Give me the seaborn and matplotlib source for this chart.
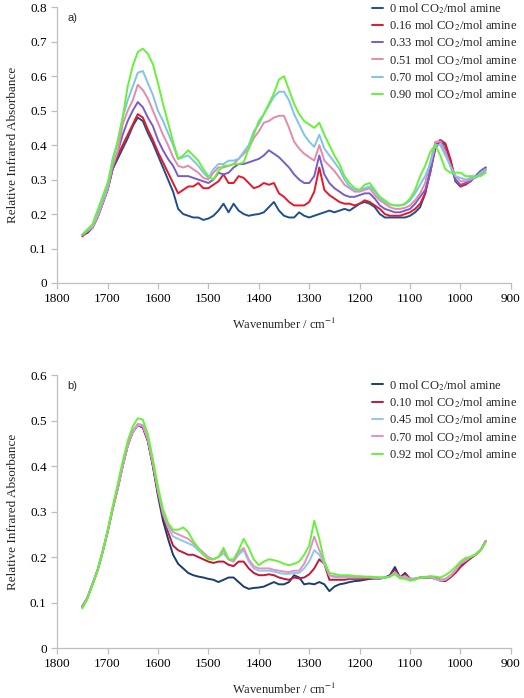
import matplotlib
matplotlib.use("Agg")
import matplotlib.pyplot as plt
import seaborn as sns

# wavenumber grid (cm-1) shared by every spectrum
wavenumbers = [1750, 1740, 1730, 1720, 1710, 1700, 1690, 1680, 1670, 1660,
               1650, 1640, 1630, 1620, 1610, 1600, 1590, 1580, 1570, 1560,
               1550, 1540, 1530, 1520, 1510, 1500, 1490, 1480, 1470, 1460,
               1450, 1440, 1430, 1420, 1410, 1400, 1390, 1380, 1370, 1360,
               1350, 1340, 1330, 1320, 1310, 1300, 1290, 1280, 1270, 1260,
               1250, 1240, 1230, 1220, 1210, 1200, 1190, 1180, 1170, 1160,
               1150, 1140, 1130, 1120, 1110, 1100, 1090, 1080, 1070, 1060,
               1050, 1040, 1030, 1020, 1010, 1000, 990, 980, 970, 960, 950]

# panel a)
a_labels = ["0 mol CO$_2$/mol amine", "0.16 mol CO$_2$/mol amine",
            "0.33 mol CO$_2$/mol amine", "0.51 mol CO$_2$/mol amine",
            "0.70 mol CO$_2$/mol amine", "0.90 mol CO$_2$/mol amine"]
a_colors = ["#1f4f8f", "#e3182b", "#7a5cc9", "#e58aac", "#82c3e8", "#66f23a"]

a_000 = [0.14, 0.145, 0.16, 0.19, 0.23, 0.27, 0.33, 0.36, 0.39, 0.42,
         0.455, 0.48, 0.47, 0.435, 0.405, 0.37, 0.335, 0.30, 0.265, 0.215,
         0.20, 0.195, 0.19, 0.19, 0.183, 0.187, 0.195, 0.21, 0.23, 0.205,
         0.23, 0.21, 0.20, 0.195, 0.198, 0.20, 0.205, 0.22, 0.235, 0.21,
         0.195, 0.19, 0.19, 0.205, 0.195, 0.19, 0.195, 0.20, 0.205, 0.21,
         0.205, 0.21, 0.215, 0.21, 0.22, 0.23, 0.235, 0.23, 0.22, 0.20,
         0.19, 0.19, 0.19, 0.19, 0.19, 0.195, 0.205, 0.22, 0.26, 0.33,
         0.39, 0.415, 0.40, 0.355, 0.295, 0.28, 0.29, 0.30, 0.31, 0.325, 0.335]
a_016 = [0.135, 0.15, 0.16, 0.19, 0.23, 0.27, 0.33, 0.37, 0.40, 0.43,
         0.46, 0.49, 0.48, 0.445, 0.415, 0.38, 0.35, 0.32, 0.29, 0.26,
         0.27, 0.28, 0.28, 0.29, 0.275, 0.275, 0.285, 0.295, 0.315, 0.29,
         0.29, 0.31, 0.305, 0.29, 0.275, 0.28, 0.29, 0.285, 0.29, 0.26,
         0.25, 0.235, 0.225, 0.225, 0.225, 0.235, 0.265, 0.335, 0.27, 0.255,
         0.245, 0.235, 0.23, 0.23, 0.225, 0.23, 0.24, 0.235, 0.225, 0.215,
         0.20, 0.195, 0.195, 0.195, 0.20, 0.205, 0.215, 0.23, 0.26, 0.32,
         0.39, 0.415, 0.405, 0.36, 0.30, 0.28, 0.285, 0.295, 0.31, 0.32, 0.33]
a_033 = [0.14, 0.15, 0.165, 0.19, 0.23, 0.27, 0.33, 0.38, 0.43, 0.47,
         0.50, 0.525, 0.51, 0.48, 0.455, 0.415, 0.385, 0.36, 0.34, 0.31,
         0.31, 0.31, 0.305, 0.30, 0.295, 0.29, 0.30, 0.32, 0.315, 0.32,
         0.335, 0.345, 0.345, 0.35, 0.355, 0.36, 0.37, 0.385, 0.375, 0.365,
         0.35, 0.335, 0.315, 0.30, 0.29, 0.29, 0.31, 0.37, 0.315, 0.29,
         0.275, 0.265, 0.255, 0.25, 0.25, 0.255, 0.26, 0.26, 0.245, 0.225,
         0.215, 0.21, 0.205, 0.205, 0.21, 0.215, 0.23, 0.25, 0.27, 0.32,
         0.40, 0.415, 0.385, 0.34, 0.30, 0.285, 0.29, 0.295, 0.31, 0.325, 0.335]
a_051 = [0.14, 0.15, 0.16, 0.19, 0.23, 0.27, 0.34, 0.38, 0.46, 0.50,
         0.53, 0.575, 0.56, 0.535, 0.50, 0.465, 0.43, 0.40, 0.365, 0.34,
         0.335, 0.34, 0.33, 0.32, 0.305, 0.30, 0.32, 0.335, 0.335, 0.34,
         0.345, 0.36, 0.375, 0.39, 0.42, 0.44, 0.465, 0.47, 0.48, 0.485,
         0.485, 0.45, 0.41, 0.39, 0.375, 0.365, 0.355, 0.40, 0.355, 0.34,
         0.325, 0.305, 0.285, 0.275, 0.265, 0.265, 0.27, 0.275, 0.255, 0.24,
         0.23, 0.22, 0.215, 0.215, 0.218, 0.225, 0.24, 0.26, 0.29, 0.35,
         0.41, 0.41, 0.38, 0.34, 0.31, 0.295, 0.295, 0.30, 0.305, 0.315, 0.325]
a_070 = [0.14, 0.155, 0.165, 0.20, 0.24, 0.28, 0.36, 0.41, 0.48, 0.53,
         0.57, 0.61, 0.615, 0.58, 0.545, 0.50, 0.47, 0.435, 0.40, 0.36,
         0.365, 0.37, 0.355, 0.34, 0.32, 0.305, 0.33, 0.345, 0.345, 0.355,
         0.355, 0.36, 0.38, 0.40, 0.44, 0.46, 0.49, 0.515, 0.54, 0.555,
         0.555, 0.53, 0.49, 0.46, 0.43, 0.41, 0.395, 0.43, 0.39, 0.37,
         0.35, 0.33, 0.30, 0.28, 0.27, 0.27, 0.275, 0.28, 0.265, 0.245,
         0.235, 0.228, 0.225, 0.225, 0.228, 0.24, 0.26, 0.285, 0.31, 0.345,
         0.40, 0.40, 0.37, 0.34, 0.31, 0.305, 0.30, 0.305, 0.305, 0.32, 0.33]
a_090 = [0.14, 0.155, 0.17, 0.21, 0.25, 0.29, 0.35, 0.41, 0.48, 0.57,
         0.63, 0.67, 0.68, 0.665, 0.635, 0.58, 0.52, 0.465, 0.41, 0.36,
         0.37, 0.385, 0.37, 0.355, 0.33, 0.31, 0.30, 0.325, 0.34, 0.34,
         0.345, 0.345, 0.35, 0.39, 0.43, 0.47, 0.49, 0.52, 0.55, 0.59,
         0.60, 0.56, 0.52, 0.49, 0.47, 0.46, 0.45, 0.465, 0.43, 0.40,
         0.37, 0.345, 0.31, 0.29, 0.275, 0.27, 0.285, 0.29, 0.27, 0.25,
         0.24, 0.228, 0.225, 0.225, 0.23, 0.245, 0.27, 0.31, 0.34, 0.38,
         0.40, 0.37, 0.33, 0.32, 0.32, 0.32, 0.31, 0.31, 0.31, 0.31, 0.32]

# panel b)
b_labels = ["0 mol CO$_2$/mol amine", "0.10 mol CO$_2$/mol amine",
            "0.45 mol CO$_2$/mol amine", "0.70 mol CO$_2$/mol amine",
            "0.92 mol CO$_2$/mol amine"]
b_colors = ["#1b3d6f", "#c4153a", "#8cc9ea", "#e292c4", "#66f23a"]

b_000 = [0.092, 0.11, 0.14, 0.17, 0.21, 0.255, 0.305, 0.35, 0.40, 0.445,
         0.475, 0.49, 0.485, 0.455, 0.40, 0.335, 0.28, 0.24, 0.205, 0.185,
         0.175, 0.165, 0.16, 0.157, 0.155, 0.152, 0.15, 0.145, 0.15, 0.155,
         0.155, 0.145, 0.135, 0.13, 0.132, 0.133, 0.135, 0.14, 0.145, 0.14,
         0.14, 0.145, 0.16, 0.155, 0.14, 0.142, 0.14, 0.145, 0.14, 0.125,
         0.135, 0.14, 0.142, 0.145, 0.147, 0.148, 0.15, 0.152, 0.153, 0.153,
         0.155, 0.16, 0.178, 0.155, 0.165, 0.152, 0.152, 0.155, 0.155, 0.155,
         0.155, 0.15, 0.15, 0.157, 0.168, 0.18, 0.19, 0.198, 0.205, 0.215, 0.235]
b_010 = [0.09, 0.11, 0.14, 0.17, 0.21, 0.255, 0.305, 0.35, 0.40, 0.445,
         0.475, 0.49, 0.485, 0.455, 0.40, 0.34, 0.29, 0.255, 0.225, 0.215,
         0.21, 0.205, 0.205, 0.20, 0.195, 0.19, 0.187, 0.19, 0.19, 0.183,
         0.18, 0.19, 0.19, 0.175, 0.165, 0.16, 0.16, 0.162, 0.16, 0.155,
         0.152, 0.15, 0.155, 0.153, 0.155, 0.162, 0.175, 0.195, 0.185, 0.15,
         0.15, 0.15, 0.15, 0.152, 0.152, 0.152, 0.152, 0.153, 0.153, 0.153,
         0.154, 0.158, 0.172, 0.155, 0.162, 0.152, 0.152, 0.155, 0.155, 0.155,
         0.152, 0.148, 0.147, 0.155, 0.165, 0.178, 0.188, 0.197, 0.205, 0.215, 0.235]
b_045 = [0.09, 0.11, 0.14, 0.17, 0.21, 0.255, 0.305, 0.35, 0.40, 0.445,
         0.475, 0.49, 0.488, 0.458, 0.405, 0.345, 0.295, 0.265, 0.245, 0.24,
         0.235, 0.23, 0.225, 0.215, 0.205, 0.197, 0.195, 0.20, 0.208, 0.195,
         0.19, 0.205, 0.215, 0.19, 0.175, 0.17, 0.17, 0.17, 0.168, 0.165,
         0.163, 0.163, 0.165, 0.165, 0.175, 0.19, 0.215, 0.205, 0.185, 0.16,
         0.155, 0.155, 0.155, 0.155, 0.155, 0.155, 0.155, 0.155, 0.154, 0.154,
         0.154, 0.157, 0.167, 0.155, 0.158, 0.152, 0.152, 0.155, 0.155, 0.155,
         0.152, 0.148, 0.15, 0.158, 0.17, 0.185, 0.192, 0.20, 0.205, 0.215, 0.235]
b_070 = [0.09, 0.11, 0.14, 0.17, 0.21, 0.255, 0.305, 0.35, 0.40, 0.445,
         0.477, 0.493, 0.49, 0.46, 0.407, 0.348, 0.30, 0.27, 0.255, 0.25,
         0.245, 0.24, 0.23, 0.22, 0.21, 0.20, 0.195, 0.20, 0.215, 0.195,
         0.19, 0.21, 0.22, 0.195, 0.18, 0.175, 0.175, 0.175, 0.172, 0.17,
         0.168, 0.167, 0.17, 0.17, 0.185, 0.21, 0.245, 0.215, 0.19, 0.16,
         0.158, 0.157, 0.157, 0.157, 0.157, 0.156, 0.156, 0.156, 0.155, 0.155,
         0.155, 0.157, 0.165, 0.155, 0.157, 0.15, 0.152, 0.155, 0.155, 0.157,
         0.153, 0.15, 0.152, 0.16, 0.172, 0.185, 0.195, 0.20, 0.205, 0.215, 0.235]
b_092 = [0.087, 0.108, 0.138, 0.17, 0.21, 0.257, 0.31, 0.36, 0.41, 0.455,
         0.487, 0.505, 0.502, 0.47, 0.415, 0.355, 0.305, 0.275, 0.26, 0.26,
         0.265, 0.255, 0.235, 0.22, 0.205, 0.195, 0.195, 0.20, 0.22, 0.195,
         0.195, 0.215, 0.24, 0.22, 0.195, 0.182, 0.19, 0.195, 0.193, 0.19,
         0.185, 0.182, 0.185, 0.19, 0.205, 0.225, 0.28, 0.24, 0.19, 0.165,
         0.163, 0.16, 0.16, 0.16, 0.158, 0.158, 0.157, 0.157, 0.156, 0.155,
         0.155, 0.157, 0.162, 0.153, 0.152, 0.148, 0.15, 0.155, 0.156, 0.158,
         0.157, 0.155, 0.16, 0.168, 0.178, 0.19, 0.198, 0.20, 0.207, 0.215, 0.232]

sns.set_style("white")
plt.rcParams['font.family'] = ['Liberation Serif', 'DejaVu Serif']
plt.rcParams['mathtext.fontset'] = 'stix'

fig = plt.figure(figsize=(5.24, 6.98), dpi=100)
ax_a = fig.add_axes([0.109, 0.5946, 0.866, 0.395])
ax_b = fig.add_axes([0.109, 0.0716, 0.866, 0.3911])


def draw_panel(ax, series, labels, colors, ymax, tag, legend_anchor):
    for vals, lab, col in zip(series, labels, colors):
        sns.lineplot(x=wavenumbers, y=vals, ax=ax, color=col, label=lab,
                     linewidth=1.4, sort=False, estimator=None)
    ax.set_xlim(1800, 900)
    ax.set_ylim(0, ymax)
    ax.set_xticks([1800, 1700, 1600, 1500, 1400, 1300, 1200, 1100, 1000, 900])
    yt = [i / 10 for i in range(int(round(ymax * 10)) + 1)]
    ax.set_yticks(yt)
    ax.set_yticklabels(["0"] + [f"{v:.1f}" for v in yt[1:]])
    for side in ["top", "right"]:
        ax.spines[side].set_visible(False)
    for side in ["left", "bottom"]:
        ax.spines[side].set_color("#bfbfbf")
        ax.spines[side].set_linewidth(0.9)
    ax.tick_params(axis="both", labelsize=9.5, colors="#bfbfbf",
                   labelcolor="black", length=4, width=0.9, direction="out",
                   left=True, bottom=True)
    ax.set_xlabel("Wavenumber / cm$^{-1}$", fontsize=9, labelpad=8)
    ax.set_ylabel("Relative Infrared Absorbance", fontsize=9.5, labelpad=8)
    ax.text(0.022, 0.978, tag, transform=ax.transAxes, fontsize=8,
            family="Liberation Sans", va="top")
    ax.legend(loc="upper right", bbox_to_anchor=legend_anchor, frameon=False,
              fontsize=9, handlelength=0.9, handletextpad=0.5,
              labelspacing=0.2, borderaxespad=0)


draw_panel(ax_a, [a_000, a_016, a_033, a_051, a_070, a_090],
           a_labels, a_colors, 0.8, "a)", (1.026, 1.041))
draw_panel(ax_b, [b_000, b_010, b_045, b_070, b_092],
           b_labels, b_colors, 0.6, "b)", (1.026, 1.008))

fig.savefig("out.png", dpi=100)
